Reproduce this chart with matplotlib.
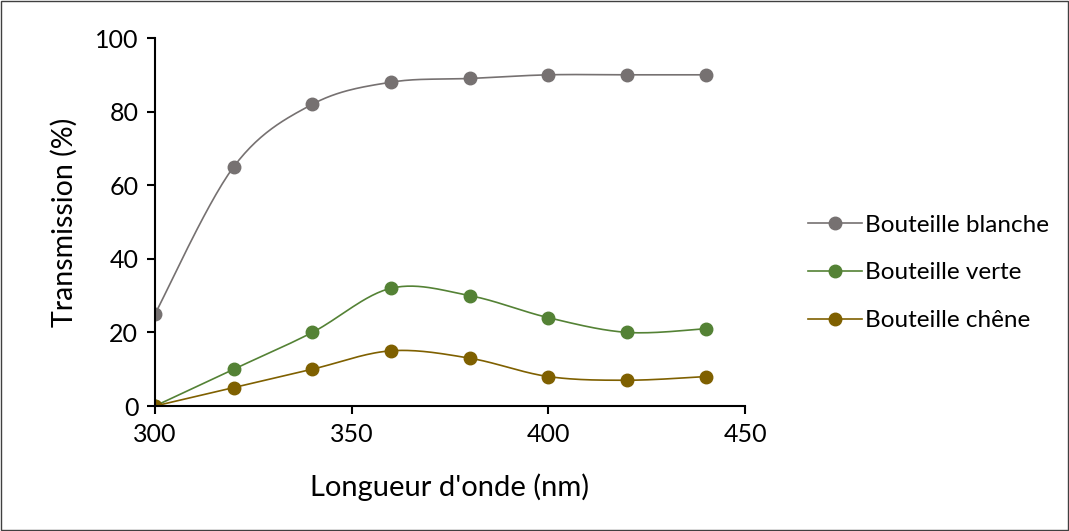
import numpy as np
import matplotlib.pyplot as plt

wavelength = [300, 320, 340, 360, 380, 400, 420, 440]
blanche = [25, 65, 82, 88, 89, 90, 90, 90]
verte = [0, 10, 20, 32, 30, 24, 20, 21]
chene = [0, 5, 10, 15, 13, 8, 7, 8]

series = [
    ("Bouteille blanche", blanche, "#767171"),
    ("Bouteille verte", verte, "#548235"),
    ("Bouteille chêne", chene, "#7f6000"),
]


def smooth(x, y, n=30):
    # Excel-like smoothed line: cubic Bezier with Catmull-Rom control points
    p = np.column_stack([x, y]).astype(float)
    pts = [p[0]]
    for i in range(len(p) - 1):
        p0 = p[i - 1] if i > 0 else p[i]
        p3 = p[i + 2] if i + 2 < len(p) else p[i + 1]
        c1 = p[i] + (p[i + 1] - p0) / 6
        c2 = p[i + 1] - (p3 - p[i]) / 6
        t = np.linspace(0, 1, n)[1:, None]
        seg = ((1 - t) ** 3 * p[i] + 3 * (1 - t) ** 2 * t * c1
               + 3 * (1 - t) * t ** 2 * c2 + t ** 3 * p[i + 1])
        pts.extend(seg)
    pts = np.array(pts)
    return pts[:, 0], pts[:, 1]


plt.rcParams['font.family'] = ['Lato', 'DejaVu Sans']

fig = plt.figure(figsize=(10.69, 5.31), dpi=100)
ax = fig.add_axes([0.145, 0.2354, 0.552, 0.693])

for label, vals, color in series:
    sx, sy = smooth(wavelength, vals)
    ax.plot(sx, sy, color=color, lw=1.2)
    ax.plot(wavelength, vals, 'o', color=color, ms=9)
    # legend handle
    ax.plot([], [], '-o', color=color, ms=9, lw=1.2, label=label)

ax.set_xlim(300, 450)
ax.set_ylim(0, 100)
ax.set_xticks([300, 350, 400, 450])
ax.set_yticks([0, 20, 40, 60, 80, 100])
ax.spines['top'].set_visible(False)
ax.spines['right'].set_visible(False)
ax.spines['left'].set_linewidth(1.5)
ax.spines['bottom'].set_linewidth(1.5)
ax.tick_params(direction='out', length=6, width=1.5, labelsize=18, pad=6)
for sp in ['left', 'bottom']:
    ax.spines[sp].set_clip_on(False)

ax.set_xlabel("Longueur d'onde (nm)", fontsize=21, labelpad=20)
ax.set_ylabel("Transmission (%)", fontsize=20.5, labelpad=12)

ax.legend(loc='center left', bbox_to_anchor=(1.07, 0.362), frameon=False,
          fontsize=17.5, handlelength=2.2, labelspacing=1.1, handletextpad=0.15)

fig.patches.append(plt.Rectangle((0.001, 0.001), 0.998, 0.998, transform=fig.transFigure,
                                 fill=False, edgecolor='#404040', lw=1))

fig.savefig("out.png", dpi=100)
